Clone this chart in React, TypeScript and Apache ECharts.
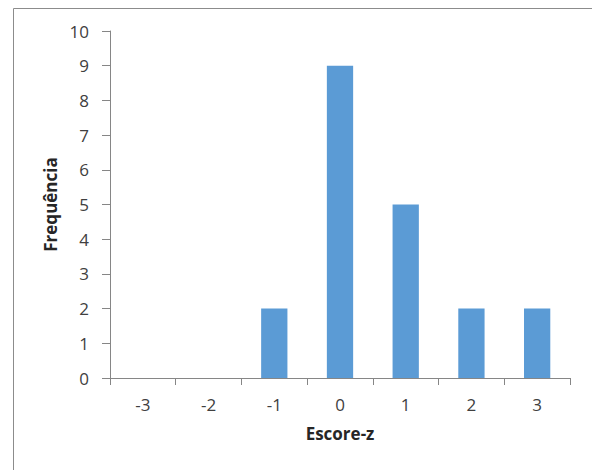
import React, { useEffect, useRef } from "react";
import * as echarts from "echarts";

const categories = ["-3", "-2", "-1", "0", "1", "2", "3"];
const frequencies = [0, 0, 2, 9, 5, 2, 2];
const xTitle = "Escore-z";
const yTitle = "Frequência";

const FONT = "'Open Sans', 'Noto Sans', sans-serif";
const TEXT = "#404040";
const AXIS = "#868686";

export default function App() {
  const ref = useRef<HTMLDivElement>(null);

  useEffect(() => {
    if (!ref.current) return;
    const chart = echarts.init(ref.current, null, { renderer: "svg" });
    chart.setOption({
      animation: false,
      backgroundColor: "#ffffff",
      textStyle: { fontFamily: FONT },
      graphic: [
        {
          type: "rect",
          shape: { x: 13.5, y: 8.5, width: 640, height: 520 },
          style: { fill: "none", stroke: "#8c8c8c", lineWidth: 1 },
          silent: true,
        },
      ],
      grid: { left: 110, right: 22, top: 31, bottom: 92, containLabel: false },
      xAxis: {
        type: "category",
        data: categories,
        boundaryGap: true,
        name: xTitle,
        nameLocation: "middle",
        nameGap: 47,
        nameTextStyle: { fontFamily: FONT, fontSize: 17, fontWeight: "bold", color: "#262626" },
        axisLine: { show: true, lineStyle: { color: AXIS, width: 1 } },
        axisTick: { show: true, alignWithLabel: false, length: 7, lineStyle: { color: AXIS } },
        axisLabel: { fontFamily: FONT, fontSize: 17, color: TEXT, margin: 18 },
        splitLine: { show: false },
      },
      yAxis: {
        type: "value",
        min: 0,
        max: 10,
        interval: 1,
        name: yTitle,
        nameLocation: "middle",
        nameRotate: 90,
        nameGap: 51,
        nameTextStyle: { fontFamily: FONT, fontSize: 17, fontWeight: "bold", color: "#262626" },
        axisLine: { show: true, lineStyle: { color: AXIS, width: 1 } },
        axisTick: { show: true, length: 8, lineStyle: { color: AXIS } },
        axisLabel: { fontFamily: FONT, fontSize: 17, color: TEXT, margin: 21 },
        splitLine: { show: false },
      },
      series: [
        {
          type: "bar",
          data: frequencies,
          barWidth: "40%",
          itemStyle: { color: "#5b9bd5" },
        },
      ],
    });
    return () => chart.dispose();
  }, []);

  return (
    <div
      ref={ref}
      style={{ position: "fixed", left: 0, top: 0, width: 592, height: 470 }}
    />
  );
}
